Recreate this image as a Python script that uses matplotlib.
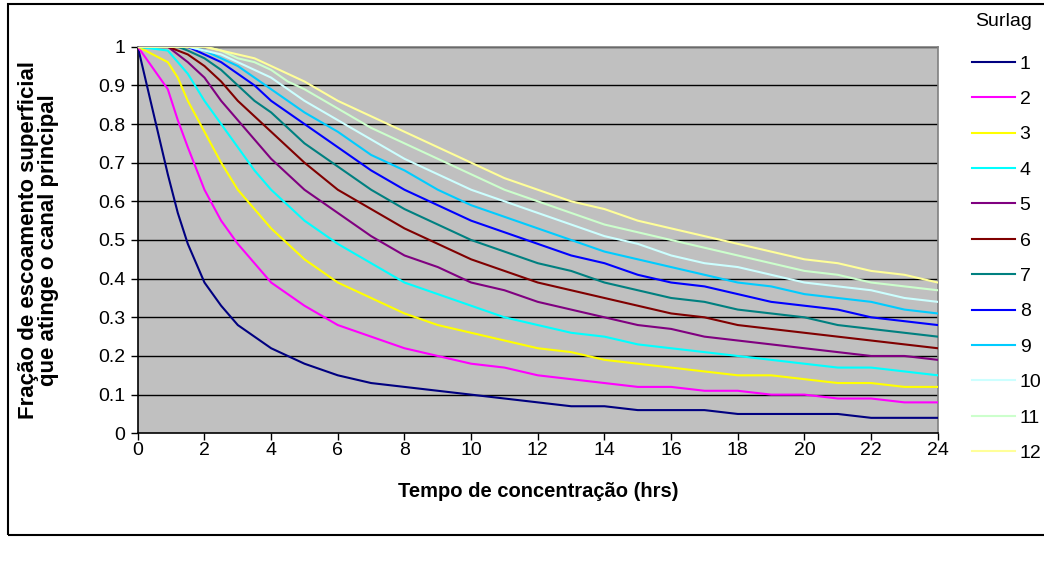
import matplotlib
matplotlib.use("Agg")
import matplotlib.pyplot as plt
from matplotlib.patches import Rectangle

# ---- data ----
tempo = [0, 0.9, 1.2, 1.5, 2, 2.5, 3, 3.5, 4, 4.5, 5, 6, 7, 8, 9, 10, 11, 12,
         13, 14, 15, 16, 17, 18, 19, 20, 21, 22, 23, 24]

s1 = [1, 0.67, 0.57, 0.49, 0.39, 0.33, 0.28, 0.25, 0.22, 0.20, 0.18, 0.15, 0.13, 0.12, 0.11,
      0.10, 0.09, 0.08, 0.07, 0.07, 0.06, 0.06, 0.06, 0.05, 0.05, 0.05, 0.05, 0.04, 0.04, 0.04]
s2 = [1, 0.89, 0.81, 0.74, 0.63, 0.55, 0.49, 0.44, 0.39, 0.36, 0.33, 0.28, 0.25, 0.22, 0.20,
      0.18, 0.17, 0.15, 0.14, 0.13, 0.12, 0.12, 0.11, 0.11, 0.10, 0.10, 0.09, 0.09, 0.08, 0.08]
s3 = [1, 0.96, 0.92, 0.86, 0.78, 0.70, 0.63, 0.58, 0.53, 0.49, 0.45, 0.39, 0.35, 0.31, 0.28,
      0.26, 0.24, 0.22, 0.21, 0.19, 0.18, 0.17, 0.16, 0.15, 0.15, 0.14, 0.13, 0.13, 0.12, 0.12]
s4 = [1, 0.99, 0.96, 0.93, 0.86, 0.80, 0.74, 0.68, 0.63, 0.59, 0.55, 0.49, 0.44, 0.39, 0.36,
      0.33, 0.30, 0.28, 0.26, 0.25, 0.23, 0.22, 0.21, 0.20, 0.19, 0.18, 0.17, 0.17, 0.16, 0.15]
s5 = [1, 1.00, 0.98, 0.96, 0.92, 0.86, 0.81, 0.76, 0.71, 0.67, 0.63, 0.57, 0.51, 0.46, 0.43,
      0.39, 0.37, 0.34, 0.32, 0.30, 0.28, 0.27, 0.25, 0.24, 0.23, 0.22, 0.21, 0.20, 0.20, 0.19]
s6 = [1, 1.00, 0.99, 0.98, 0.95, 0.91, 0.86, 0.82, 0.78, 0.74, 0.70, 0.63, 0.58, 0.53, 0.49,
      0.45, 0.42, 0.39, 0.37, 0.35, 0.33, 0.31, 0.30, 0.28, 0.27, 0.26, 0.25, 0.24, 0.23, 0.22]
s7 = [1, 1.00, 1.00, 0.99, 0.97, 0.94, 0.90, 0.86, 0.83, 0.79, 0.75, 0.69, 0.63, 0.58, 0.54,
      0.50, 0.47, 0.44, 0.42, 0.39, 0.37, 0.35, 0.34, 0.32, 0.31, 0.30, 0.28, 0.27, 0.26, 0.25]
s8 = [1, 1.00, 1.00, 1.00, 0.98, 0.96, 0.93, 0.90, 0.86, 0.83, 0.80, 0.74, 0.68, 0.63, 0.59,
      0.55, 0.52, 0.49, 0.46, 0.44, 0.41, 0.39, 0.38, 0.36, 0.34, 0.33, 0.32, 0.30, 0.29, 0.28]
s9 = [1, 1.00, 1.00, 1.00, 0.99, 0.97, 0.95, 0.92, 0.89, 0.86, 0.83, 0.78, 0.72, 0.68, 0.63,
      0.59, 0.56, 0.53, 0.50, 0.47, 0.45, 0.43, 0.41, 0.39, 0.38, 0.36, 0.35, 0.34, 0.32, 0.31]
s10 = [1, 1.00, 1.00, 1.00, 0.99, 0.98, 0.96, 0.94, 0.92, 0.89, 0.86, 0.81, 0.76, 0.71, 0.67,
       0.63, 0.60, 0.57, 0.54, 0.51, 0.49, 0.46, 0.44, 0.43, 0.41, 0.39, 0.38, 0.37, 0.35, 0.34]
s11 = [1, 1.00, 1.00, 1.00, 1.00, 0.99, 0.97, 0.96, 0.94, 0.91, 0.89, 0.84, 0.79, 0.75, 0.71,
       0.67, 0.63, 0.60, 0.57, 0.54, 0.52, 0.50, 0.48, 0.46, 0.44, 0.42, 0.41, 0.39, 0.38, 0.37]
s12 = [1, 1.00, 1.00, 1.00, 1.00, 0.99, 0.98, 0.97, 0.95, 0.93, 0.91, 0.86, 0.82, 0.78, 0.74,
       0.70, 0.66, 0.63, 0.60, 0.58, 0.55, 0.53, 0.51, 0.49, 0.47, 0.45, 0.44, 0.42, 0.41, 0.39]

series = [s1, s2, s3, s4, s5, s6, s7, s8, s9, s10, s11, s12]
labels = ["1", "2", "3", "4", "5", "6", "7", "8", "9", "10", "11", "12"]
colors = ["#000080", "#FF00FF", "#FFFF00", "#00FFFF", "#800080", "#800000",
          "#008080", "#0000FF", "#00CCFF", "#CCFFFF", "#CCFFCC", "#FFFF99"]

xticks = list(range(0, 25, 2))
yticks = [0, 0.1, 0.2, 0.3, 0.4, 0.5, 0.6, 0.7, 0.8, 0.9, 1]
yticklabels = ["0", "0.1", "0.2", "0.3", "0.4", "0.5", "0.6", "0.7", "0.8", "0.9", "1"]

plt.rcParams['font.family'] = ['Liberation Sans', 'DejaVu Sans']

W, H = 1044, 561
fig = plt.figure(figsize=(W / 100, H / 100), dpi=100)
fig.patch.set_facecolor("white")

# plot area in pixels
x0, x1, ytop, ybot = 137.8, 937.8, 46.7, 433.3
ax = fig.add_axes([x0 / W, (H - ybot) / H, (x1 - x0) / W, (ybot - ytop) / H])
ax.set_facecolor("#C0C0C0")

for yv in yticks[1:]:
    ax.axhline(yv, color="#000000", lw=1.0, zorder=1)

for vals, lab, col in zip(series, labels, colors):
    ax.plot(tempo, vals, color=col, lw=1.5, label=lab, zorder=3)

ax.set_xlim(0, 24)
ax.set_ylim(0, 1)
ax.set_xticks(xticks)
ax.set_xticklabels([str(v) for v in xticks])
ax.set_yticks(yticks)
ax.set_yticklabels(yticklabels)
ax.tick_params(axis="both", direction="out", length=5, width=1, color="black",
               labelsize=14)
ax.tick_params(axis="x", pad=1)
ax.tick_params(axis="y", pad=4)
for side in ["left", "bottom"]:
    ax.spines[side].set_color("black")
    ax.spines[side].set_linewidth(1.2)
for side in ["top", "right"]:
    ax.spines[side].set_color("#808080")
    ax.spines[side].set_linewidth(1.2)

ax.set_xlabel("Tempo de concentração (hrs)", fontsize=14.5, fontweight="bold")
ax.xaxis.set_label_coords(0.5, -0.125)
ax.set_ylabel("Fração de escoamento superficial\nque atinge o canal principal",
              fontsize=16, fontweight="bold", linespacing=0.95)
ax.yaxis.set_label_coords(-0.098, 0.5)

# legend
leg = ax.legend(loc="upper left", bbox_to_anchor=(972 / W, (H - 55) / H),
                bbox_transform=fig.transFigure, frameon=False, fontsize=14,
                handlelength=2.2, handletextpad=0.25,
                labelspacing=0.915, borderaxespad=0, borderpad=0)
fig.text(1004 / W, (H - 22) / H, "Surlag", fontsize=14, ha="center", va="center")

# outer chart border
fig.patches.append(Rectangle((8 / W, (H - 535) / H), 1.2, (535 - 4) / H,
                             transform=fig.transFigure, fill=False,
                             edgecolor="black", lw=1.5, clip_on=False))

fig.savefig("out.png", dpi=100)
